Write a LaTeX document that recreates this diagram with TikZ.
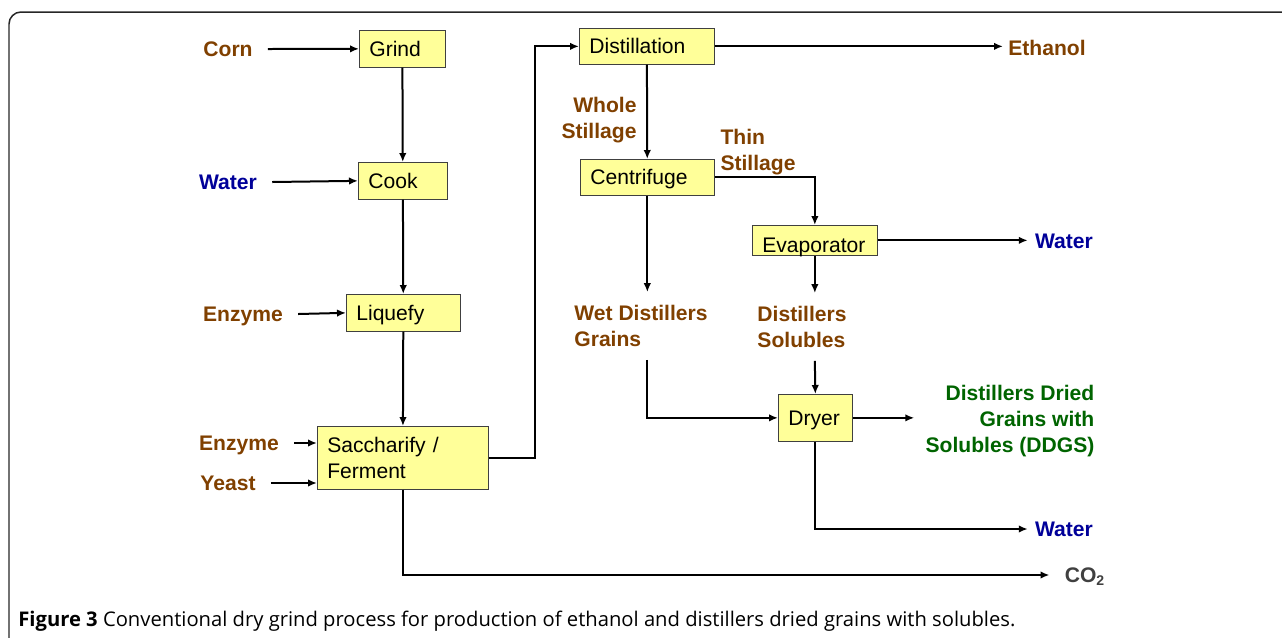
\documentclass[tikz,border=0pt]{standalone}
\usepackage{fontspec}
\setmainfont{Liberation Sans}
\newfontfamily\capfont{Open Sans}
\usetikzlibrary{arrows.meta}
\definecolor{streamcol}{RGB}{128,64,0}
\definecolor{watercol}{RGB}{0,0,153}
\definecolor{productcol}{RGB}{0,100,0}
\definecolor{gascol}{RGB}{64,64,64}
\definecolor{unitfill}{RGB}{255,255,153}

\begin{document}
\begin{tikzpicture}[x=0.02cm,y=-0.02cm,
  unit/.style={draw=black!75,fill=unitfill,anchor=north west,align=left,inner xsep=0.2cm,inner ysep=0cm,
    text height=0.3cm,text depth=0cm,font=\fontsize{12}{14.8}\selectfont},
  stuff/.style={font=\bfseries\fontsize{12}{14.8}\selectfont,text height=0.3cm,text depth=0cm,inner xsep=0.3cm,inner ysep=0.26cm},
  twolines/.style={text height=0.822cm},
  threelines/.style={text height=1.344cm},
  flow/.style={line width=0.04cm,-{Latex[length=0.18cm,width=0.15cm]}}]
  \useasboundingbox (0,0) rectangle (1282,637);
  \clip (0,0) rectangle (1282,637);
  \draw[line width=0.03cm,black!85,rounded corners=0.24cm] (9,660) -- (9,12) -- (1300,12);
  \node[unit,text width=1.32cm,minimum height=0.74cm] (grind) at (359,30) {Grind};
  \node[unit,text width=1.38cm,minimum height=0.74cm] (cook) at (358,162) {Cook};
  \node[unit,text width=1.88cm,minimum height=0.74cm] (liquefy) at (346,294) {Liquefy};
  \node[unit,text depth=0.522cm,text width=3.02cm,minimum height=1.26cm] (ferment) at (317,426) {Saccharify /\\Ferment};
  \node[unit,text width=2.30cm,minimum height=0.72cm] (distil) at (579,28) {Distillation};
  \node[unit,text width=2.28cm,minimum height=0.72cm] (centri) at (580,159) {Centrifuge};
  \node[unit,text width=2.10cm,minimum height=0.60cm,text height=0.48cm] (evap) at (752,225) {Evaporator};
  \node[unit,text width=1.08cm,minimum height=0.94cm] (dryer) at (778,394) {Dryer};
  \node[stuff,text=streamcol] (corn) at (228,49) {Corn};
  \node[stuff,text=watercol] (watera) at (228,182) {Water};
  \node[stuff,text=streamcol] (enzymea) at (243,314) {Enzyme};
  \node[stuff,text=streamcol] (enzymeb) at (239,443) {Enzyme};
  \node[stuff,text=streamcol] (yeast) at (228,483) {Yeast};
  \node[stuff,twolines,text=streamcol,align=right] (whole) at (599,118) {Whole\\Stillage};
  \node[stuff,twolines,text=streamcol,align=left] (thin) at (758,150) {Thin\\Stillage};
  \node[stuff,twolines,text=streamcol,align=left] (wetdg) at (641,326) {Wet Distillers\\Grains};
  \node[stuff,twolines,text=streamcol,align=left] (solubles) at (802,327) {Distillers\\Solubles};
  \node[stuff,threelines,text=productcol,align=right,inner xsep=0.22cm] (ddgs) at (1010,419) {Distillers Dried\\Grains with\\Solubles (DDGS)};
  \node[stuff,text=streamcol,inner xsep=0.1cm] (ethanol) at (1047,48) {Ethanol};
  \node[stuff,text=watercol,inner xsep=0.14cm] (waterb) at (1064,241) {Water};
  \node[stuff,text=watercol,inner xsep=0.14cm] (waterc) at (1064,529) {Water};
  \node[stuff,text=gascol,inner xsep=0.3cm] (co2) at (1085,575) {CO\textsubscript{2}};
  \node[anchor=base west,inner sep=0,font=\capfont\fontsize{11.5}{13}\selectfont] (caption) at (18,626)
    {\textbf{Figure 3} Conventional dry grind process for production of ethanol and distillers dried grains with solubles.};
  \draw[flow] (corn.east) -- (grind.west);
  \draw[flow] (watera.east) -- (cook.west);
  \draw[flow] (enzymea.east) -- (liquefy.west);
  \draw[flow] (enzymeb.east) -- (enzymeb.east -| ferment.west);
  \draw[flow] (yeast.east) -- (yeast.east -| ferment.west);
  \draw[flow] (grind) -- (cook);
  \draw[flow] (cook) -- (liquefy);
  \draw[flow] (liquefy) -- (ferment);
  \draw[flow] (ferment.east) -- ++(46,0) |- (distil.west);
  \draw[flow] (ferment.south) |- (co2.west);
  \draw[flow] (distil.east) -- (distil.east -| ethanol.west);
  \draw[flow] (distil) -- (centri);
  \draw[flow] (centri.east) -| (evap.north);
  \draw[flow] (evap.east) -- (evap.east -| waterb.west);
  \draw[flow] (evap.south) -- (evap.south |- solubles.north);
  \draw[flow] (evap.south |- solubles.south) -- (dryer.north);
  \draw[flow] (centri.south) -- (centri.south |- wetdg.north);
  \draw[flow] (centri.south |- wetdg.south) |- (dryer.west);
  \draw[flow] (dryer.east) -- (dryer.east -| ddgs.west);
  \draw[flow] (dryer.south) |- (waterc.west);
\end{tikzpicture}
\end{document}
